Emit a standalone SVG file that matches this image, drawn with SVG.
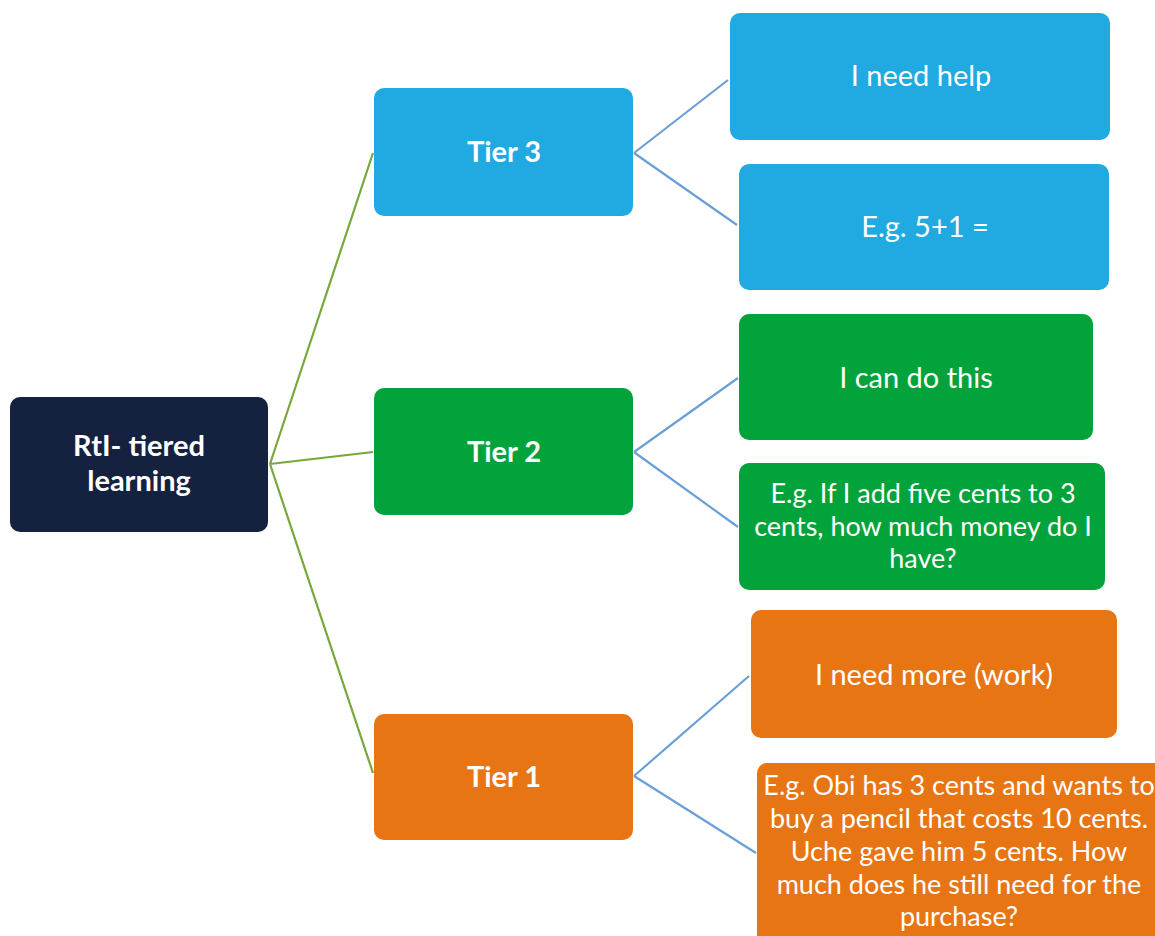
<svg xmlns="http://www.w3.org/2000/svg" width="1155" height="936" viewBox="0 0 1155 936">
<style>
.t{font-family:Lato,"Open Sans","Liberation Sans",sans-serif;fill:#fff;text-anchor:middle}
.b{font-weight:bold;font-size:29px}
.n{font-size:29px}
.m{font-size:27px}
.g{stroke:#77A83A;stroke-width:2.2;fill:none}
.l{stroke:#6A9FD8;stroke-width:2.2;fill:none}
.navy{fill:#15223F}
.blue{fill:#21A9E1}
.green{fill:#03A33C}
.orange{fill:#E77514}
</style>
<rect width="1155" height="936" fill="#fff"/>
<g id="connectors">
<path class="g" d="M270 464 L373 153 M270 464 L373 452 M270 464 L373 773"/>
<path class="l" d="M634 153 L728 80 M634 153 L737 225"/>
<path class="l" d="M634 452 L738 378 M634 452 L738 527"/>
<path class="l" d="M634 776 L749 676 M634 776 L756 853"/>
</g>
<g id="root"><rect class="navy" x="10" y="397" width="258" height="135" rx="10"/>
<text class="t b" x="139" y="456">RtI- tiered</text><text class="t b" x="139" y="491">learning</text></g>
<g id="tier3"><rect class="blue" x="374" y="88" width="259" height="128" rx="10"/><text class="t b" x="504" y="162">Tier 3</text></g>
<g id="tier2"><rect class="green" x="374" y="388" width="259" height="127" rx="10"/><text class="t b" x="504" y="462">Tier 2</text></g>
<g id="tier1"><rect class="orange" x="374" y="714" width="259" height="126" rx="10"/><text class="t b" x="504" y="787">Tier 1</text></g>
<g id="help"><rect class="blue" x="730" y="13" width="380" height="127" rx="10"/><text class="t n" x="921" y="86">I need help</text></g>
<g id="eg3"><rect class="blue" x="739" y="164" width="370" height="126" rx="10"/><text class="t n" x="925" y="237">E.g. 5+1 =</text></g>
<g id="cando"><rect class="green" x="739" y="314" width="354" height="126" rx="10"/><text class="t n" x="916" y="388">I can do this</text></g>
<g id="eg2"><rect class="green" x="739" y="463" width="366" height="127" rx="10"/>
<text class="t m" x="923" y="503">E.g. If I add five cents to 3</text>
<text class="t m" x="923" y="536">cents, how much money do I</text>
<text class="t m" x="923" y="568">have?</text></g>
<g id="more"><rect class="orange" x="751" y="610" width="366" height="128" rx="10"/><text class="t n" x="934" y="685">I need more (work)</text></g>
<g id="eg1"><rect class="orange" x="757" y="763" width="410" height="185" rx="10"/>
<text class="t m" x="959" y="795">E.g. Obi has 3 cents and wants to</text>
<text class="t m" x="959" y="828">buy a pencil that costs 10 cents.</text>
<text class="t m" x="959" y="861">Uche gave him 5 cents. How</text>
<text class="t m" x="959" y="894">much does he still need for the</text>
<text class="t m" x="959" y="926">purchase?</text></g>
</svg>
